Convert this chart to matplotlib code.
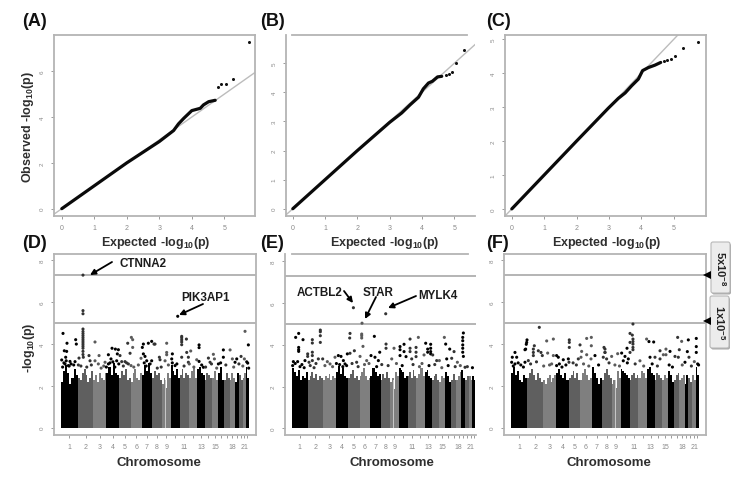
import numpy as np
import matplotlib
matplotlib.use('Agg')
import matplotlib.pyplot as plt
from matplotlib.patches import FancyBboxPatch, Polygon

plt.rcParams['font.family'] = ['Liberation Sans', 'DejaVu Sans']
plt.rcParams['mathtext.default'] = 'regular'

W, H = 742, 485

# chromosome lengths in Mb
chrom_len = [249, 243, 198, 191, 181, 171, 159, 146, 141, 135, 135, 133, 115, 107, 102, 90, 81, 78, 59, 63, 48, 51]
chrom_ticklabels = ['1', '2', '3', '4', '5', '6', '7', '8', '9', '', '11', '', '13', '', '15', '', '', '18', '', '', '21', '']
chrom_colors = ['#000000', '#5f5f5f', '#7f7f7f']
point_colors = ['#000000', '#333333', '#5a5a5a']

qq_a_x = [0, 1, 2, 3.0, 3.44, 3.59, 3.75, 4.0, 4.26, 4.36, 4.52, 4.72]
qq_a_y = [0, 1, 2, 2.93, 3.41, 3.70, 3.94, 4.28, 4.38, 4.53, 4.67, 4.73]
qq_a_tail_x = [4.8, 4.91, 5.05, 5.28, 5.76]
qq_a_tail_y = [5.33, 5.43, 5.46, 5.68, 7.28]

qq_b_x = [0, 1, 2, 3.0, 3.37, 3.63, 3.89, 4.04, 4.2, 4.32, 4.48, 4.61]
qq_b_y = [0, 1, 2, 2.97, 3.29, 3.57, 3.83, 4.12, 4.32, 4.38, 4.53, 4.55]
qq_b_tail_x = [4.73, 4.82, 4.92, 5.06, 5.3]
qq_b_tail_y = [4.6, 4.63, 4.69, 5.02, 5.45]

qq_c_x = [0, 1, 2, 2.98, 3.29, 3.5, 3.7, 3.91, 4.04, 4.22, 4.42, 4.6]
qq_c_y = [0, 1, 2, 2.97, 3.26, 3.42, 3.63, 3.83, 4.08, 4.17, 4.24, 4.32]
qq_c_tail_x = [4.7, 4.8, 4.92, 5.05, 5.28, 5.76]
qq_c_tail_y = [4.36, 4.38, 4.41, 4.50, 4.76, 4.92]

# solid part of the Manhattan plots, heights along each chromosome
top_d = [[2.2, 2.7, 3.0, 2.6, 2.1, 2.4, 2.8, 2.5], [2.4, 2.3, 2.6, 2.8, 2.5, 2.2, 2.4, 2.7],
         [2.3, 2.5, 2.2, 2.6, 2.4, 2.3, 2.6], [2.6, 2.9, 2.5, 3.1, 2.6, 2.5], [2.4, 2.7, 2.5, 2.8, 2.3, 2.4],
         [2.2, 2.6, 2.8, 2.4, 2.3, 2.6], [2.5, 3.0, 2.7, 3.1, 2.6], [2.4, 2.7, 2.5, 2.6, 2.3],
         [2.1, 2.4, 1.9, 2.6, 2.4], [3.0, 2.7, 2.5, 2.8, 2.4], [2.5, 2.8, 2.4, 2.6, 2.5], [2.4, 2.7, 2.9, 2.4],
         [2.8, 2.9, 2.6, 2.5], [2.3, 2.6, 2.5, 2.4], [2.4, 2.7, 2.3], [2.6, 2.9, 2.3], [2.3, 2.6, 2.4],
         [2.3, 2.6, 2.4], [2.2, 2.6], [2.5, 2.3], [2.4, 2.6], [2.9, 2.4]]
top_e = [[2.9, 2.7, 2.5, 2.8, 2.3, 2.5, 2.4, 2.7], [2.3, 2.5, 2.7, 2.4, 2.6, 2.3, 2.5, 2.4],
         [2.3, 2.5, 2.4, 2.6, 2.3, 2.5, 2.4], [2.7, 3.0, 2.6, 2.9, 2.5, 2.4], [2.4, 2.6, 2.8, 2.4, 2.5, 2.3],
         [2.5, 2.7, 2.9, 2.5, 2.3, 2.4], [2.5, 2.9, 2.7, 2.5, 2.6], [2.3, 2.6, 2.4, 2.7, 2.4],
         [2.2, 2.4, 1.9, 2.7, 2.5], [2.9, 2.8, 2.7, 2.4, 2.5], [2.5, 2.7, 2.4, 2.8, 2.5], [2.4, 2.6, 2.9, 2.5],
         [2.7, 2.8, 2.5, 2.4], [2.3, 2.5, 2.6, 2.3], [2.2, 2.5, 2.4], [2.7, 2.5, 2.2], [2.3, 2.6, 2.3],
         [2.3, 2.5, 2.7], [2.8, 2.4], [2.3, 2.5], [2.5, 2.3], [2.5, 2.3]]
top_f = [[2.6, 2.9, 2.5, 2.7, 2.3, 2.2, 2.5, 2.4], [2.4, 2.6, 2.8, 2.5, 2.3, 2.6, 2.4, 2.2],
         [2.3, 2.1, 2.4, 2.5, 2.2, 2.4, 2.5], [2.6, 2.8, 2.5, 2.4, 2.6, 2.3], [2.4, 2.5, 2.7, 2.4, 2.6, 2.3],
         [2.3, 2.6, 2.8, 2.5, 2.3, 2.4], [2.9, 2.6, 2.4, 2.1, 2.4], [2.3, 2.6, 2.8, 2.5, 2.4],
         [2.1, 2.3, 1.9, 2.7, 2.4], [2.8, 2.7, 2.6, 2.5, 2.4], [2.3, 2.5, 2.6, 2.4, 2.5], [2.4, 2.7, 2.6, 2.4],
         [2.8, 2.9, 2.6, 2.5], [2.3, 2.6, 2.5, 2.4], [2.3, 2.5, 2.4], [2.7, 2.5, 2.2], [2.3, 2.5, 2.6],
         [2.3, 2.4, 2.5], [2.1, 2.5], [2.4, 2.2], [2.5, 2.3], [2.9, 2.5]]

# pale strip in chromosome 9, start and width in Mb
strip_start = 1587
strip_width = 22
strip_height = 2.3

# single SNPs, x as genome position in Mb
pts_d_x = [332, 332, 332, 1783, 26, 87, 220, 230, 46, 82, 67, 6, 133, 57, 108, 271, 210, 261,
           332, 332, 332, 332, 332, 332, 332, 332, 332, 332, 332, 332,
           516, 424, 440, 578, 1073, 1093, 1017, 1093, 1053, 777, 828, 874, 721, 761, 858, 899,
           925, 976, 1027, 1068, 1257, 1333, 1384, 1420, 1241, 1257, 1282, 1221, 1308, 1384,
           670, 721, 848, 516, 567, 337,
           1844, 1844, 1844, 1844, 1844, 1916, 1614, 1435, 2814, 2865, 2110, 2110, 1701, 1614, 1614,
           1921, 1982, 1844, 1502, 1512, 1589, 1691, 1742, 1946, 1946, 2074, 2110, 2329, 2253, 2345,
           2278, 2482, 2585, 2482, 2620, 2687, 2753, 2804, 2855, 2661, 2406, 2176,
           20, 40, 75, 120, 150, 190, 300, 390, 460, 610, 650, 690, 745, 790, 820, 880, 950, 1000,
           1110, 1180, 1270, 1300, 1360, 1470, 1530, 1640, 1700, 1770, 1880, 1960, 2030, 2150, 2210,
           2300, 2380, 2440, 2520, 2640, 2720, 2780, 2840, 2870]
pts_d_y = [7.3, 5.6, 5.45, 5.33, 4.51, 4.04, 4.21, 4.0, 3.68, 3.65, 3.37, 3.24, 3.17, 3.05, 2.97, 3.33, 3.16, 3.0,
           4.72, 4.6, 4.5, 4.4, 4.3, 4.2, 4.1, 4.0, 3.9, 3.8, 3.65, 3.5,
           4.1, 3.45, 3.2, 3.45, 4.32, 4.21, 4.04, 3.84, 3.56, 3.8, 3.76, 3.73, 3.49, 3.29, 3.53, 3.45,
           3.16, 3.16, 3.05, 2.97, 4.0, 4.04, 4.13, 4.0, 3.84, 3.53, 3.41, 3.32, 3.2, 3.2,
           3.13, 3.05, 3.2, 3.2, 3.05, 3.37,
           4.37, 4.3, 4.2, 4.1, 3.97, 4.24, 4.04, 4.0, 4.61, 3.96, 3.96, 3.83, 3.53, 3.6, 3.49,
           3.6, 3.67, 3.37, 3.37, 3.25, 3.2, 3.29, 2.97, 3.37, 3.13, 3.25, 3.17, 3.51, 3.33, 3.29,
           3.13, 3.72, 3.72, 3.37, 3.29, 3.29, 3.41, 3.29, 3.09, 3.13, 3.05, 2.89,
           2.9, 3.1, 3.2, 2.95, 3.05, 3.0, 2.95, 2.9, 3.0, 2.85, 2.95, 2.9, 3.1, 3.15, 2.9, 3.05, 2.95, 3.1,
           2.9, 3.0, 3.1, 2.95, 3.05, 2.85, 2.9, 3.0, 3.1, 3.05, 2.95, 3.05, 2.9, 3.0, 2.9,
           3.05, 2.85, 3.1, 3.0, 2.9, 3.05, 2.95, 3.15, 2.85]

pts_e_x = [966, 1101, 1472, 109, 62, 177, 109, 109, 109, 448, 448, 448, 448, 323, 323, 913, 908,
           1096, 1096, 1096, 1116, 1294, 913, 871, 981, 250, 250, 323, 323, 323, 208, 271, 26, 93,
           417, 485, 558, 678, 730, 772, 809, 835, 1070, 1174, 1242, 1304, 1378, 1357, 600, 1017,
           1853, 1983, 1477, 1477, 1759, 1696, 1696, 1602, 1759, 1853, 1853, 1947, 1947, 1947,
           2098, 2176, 2176, 2176, 2176, 2129, 2129, 2072, 2208, 2390, 2411, 2474, 2542,
           2688, 2678, 2678, 2678, 2678, 2678, 2688, 2270, 2312, 2427, 2505, 2594, 2714,
           1566, 1696, 1790, 1879,
           15, 55, 130, 160, 195, 290, 350, 380, 520, 640, 700, 750, 800, 860, 945, 1040, 1140, 1210,
           1330, 1410, 1510, 1640, 1730, 1900, 2000, 2040, 2150, 2240, 2350, 2450, 2560, 2640, 2750, 2830]
pts_e_y = [5.77, 5.03, 5.48, 4.54, 4.35, 4.24, 3.87, 3.76, 3.68, 4.70, 4.62, 4.43, 4.11, 4.24, 4.08, 4.54, 4.32,
           4.51, 4.43, 4.32, 3.92, 4.40, 3.59, 3.56, 3.71, 3.56, 3.44, 3.64, 3.48, 3.24, 3.24, 3.16, 3.19, 3.19,
           3.32, 3.32, 3.19, 3.40, 3.48, 3.44, 3.24, 3.08, 3.44, 3.24, 3.48, 3.40, 3.64, 3.24, 3.08, 3.16,
           4.27, 4.35, 4.03, 3.83, 4.02, 3.91, 3.76, 3.83, 3.67, 3.83, 3.67, 3.87, 3.64, 3.43,
           4.07, 4.02, 3.83, 3.67, 3.56, 3.79, 3.64, 3.51, 3.51, 4.35, 4.03, 3.79, 3.67,
           4.56, 4.35, 4.19, 3.99, 3.83, 3.64, 3.44, 3.24, 3.24, 3.32, 3.35, 3.16, 2.92,
           3.32, 3.48, 3.43, 3.32,
           3.0, 3.1, 2.95, 3.05, 2.9, 3.0, 2.9, 3.1, 3.0, 2.95, 3.1, 3.05, 2.95, 3.0, 3.1, 2.95, 3.05, 3.1,
           2.95, 3.05, 3.0, 3.1, 3.0, 3.05, 2.95, 3.1, 3.0, 3.05, 2.9, 3.0, 2.95, 3.0, 2.95, 2.9]

pts_f_x = [433, 245, 240, 234, 224, 214, 546, 648, 892, 892, 892, 1158, 1229, 1056, 1229, 61, 20, 87,
           357, 342, 342, 342, 418, 459, 479, 561, 648, 698, 724, 800, 877, 887,
           1081, 1158, 1285, 1224, 1071, 1030, 1423, 1438, 1412, 1463, 61, 214, 265, 10, 622, 698,
           1866, 1821, 1856, 1866, 1866, 1821, 1866, 1866, 1866, 1821, 1775, 1632, 1693,
           2075, 2111, 2183, 2550, 2611, 2713, 2835, 2835, 2835, 2575, 2698,
           2280, 2371, 2433, 2331, 2371, 1744, 1795, 1718, 1540, 2127, 2203, 2280, 1973,
           2509, 2560, 2662, 2723, 2805, 2856, 1438, 1438,
           35, 110, 150, 190, 300, 390, 500, 590, 740, 780, 840, 950, 1000, 1110, 1190, 1340, 1500,
           1590, 1660, 1780, 1900, 2030, 2160, 2240, 2420, 2470, 2620, 2760, 2870]
pts_f_y = [4.8, 4.2, 4.08, 3.99, 3.76, 3.73, 4.15, 4.24, 4.2, 4.08, 3.84, 4.27, 4.32, 3.96, 3.92, 3.6, 3.37, 3.37,
           3.92, 3.76, 3.6, 3.45, 3.68, 3.6, 3.45, 3.57, 3.45, 3.45, 3.37, 3.25, 3.29, 3.13,
           3.65, 3.49, 3.45, 3.29, 3.37, 3.29, 3.84, 3.6, 3.37, 3.29, 3.05, 3.13, 3.21, 3.13, 3.05, 2.97,
           4.96, 4.51, 4.43, 4.24, 4.12, 4.08, 4.0, 3.84, 3.73, 3.6, 3.8, 3.54, 3.57,
           4.24, 4.12, 4.1, 4.32, 4.13, 4.2, 4.27, 3.88, 3.6, 3.73, 3.64,
           3.68, 3.76, 3.65, 3.49, 3.49, 3.41, 3.29, 3.2, 3.41, 3.37, 3.37, 3.29, 3.2,
           3.41, 3.37, 3.13, 3.37, 3.16, 3.05, 3.76, 3.6,
           2.95, 3.1, 3.0, 2.9, 3.05, 3.15, 2.95, 3.0, 3.05, 2.9, 3.0, 3.1, 3.0, 3.05, 2.95, 3.0, 3.1,
           3.0, 2.95, 3.1, 3.05, 2.95, 3.05, 2.95, 3.0, 2.9, 3.0, 2.95, 3.0]

thresholds = [7.3, 5.0]

SPINE = '#b4b4b4'
TICK = '#9a9a9a'
LABEL = '#2f2f2f'


def axes_px(left, top, right, bottom):
    return fig.add_axes([left / W, 1 - bottom / H, (right - left) / W, (bottom - top) / H])


def style(ax, yticks):
    for s in ax.spines.values():
        s.set_color(SPINE)
        s.set_linewidth(1.3)
    ax.set_yticks(yticks)
    ax.tick_params(length=2.5, width=0.7, color=TICK, labelsize=5, labelcolor='#8a8a8a', pad=3)
    ax.tick_params(axis='y', labelrotation=90, labelsize=4.5, pad=4)
    for t in ax.get_yticklabels():
        t.set_va('center')


def draw_qq(ax, x, y, tail_x, tail_y, xlim, ylim, yticks):
    ax.plot([-1, 10], [-1, 10], color='#bcbcbc', lw=1)
    ax.plot(x, y, color='#0a0a0a', lw=2.3, solid_capstyle='round')
    ax.plot(tail_x, tail_y, ls='none', marker='o', ms=2.2, color='#111111', mew=0)
    ax.set_xlim(xlim)
    ax.set_ylim(ylim)
    ax.set_xticks(range(6))
    style(ax, yticks)


def draw_manhattan(ax, tops, px, py, xlim, ylim):
    starts = np.concatenate([[0], np.cumsum(chrom_len)[:-1]])
    for i, (start, length, top) in enumerate(zip(starts, chrom_len, tops)):
        w = length / len(top)
        ax.bar(start + w * np.arange(len(top)), top, width=w, align='edge',
               color=chrom_colors[i % 3], lw=0)
    ax.bar(strip_start, strip_height, width=strip_width, align='edge', color='#c6c6c6', lw=0)
    chrom_idx = np.searchsorted(starts, px, side='right') - 1
    colors = [point_colors[c % 3] for c in chrom_idx]
    ax.scatter(px, py, s=5, c=colors, lw=0, zorder=3)
    for t in thresholds:
        ax.axhline(t, color='#a0a0a0', lw=1.1, zorder=2)
    ax.set_xlim(xlim)
    ax.set_ylim(ylim)
    ax.set_xticks(starts + np.array(chrom_len) / 2)
    ax.set_xticklabels(chrom_ticklabels)
    style(ax, [0, 2, 4, 6, 8])


fig = plt.figure(figsize=(W / 100, H / 100), dpi=100)

ax_a = axes_px(54, 36, 255.5, 217)
draw_qq(ax_a, qq_a_x, qq_a_y, qq_a_tail_x, qq_a_tail_y, (-0.24, 5.96), (-0.32, 7.58), [0, 2, 4, 6])

ax_b = axes_px(285.7, 36, 475, 217)
draw_qq(ax_b, qq_b_x, qq_b_y, qq_b_tail_x, qq_b_tail_y, (-0.22, 5.64), (-0.25, 5.97), range(6))
ax_b.spines['right'].set_visible(False)
ax_b.spines['top'].set_bounds(-0.02, 5.4)

ax_c = axes_px(504.7, 36, 705.7, 217)
draw_qq(ax_c, qq_c_x, qq_c_y, qq_c_tail_x, qq_c_tail_y, (-0.22, 5.99), (-0.21, 5.13), range(6))

ax_d = axes_px(54, 255, 256, 436)
draw_manhattan(ax_d, top_d, pts_d_x, pts_d_y, (-112, 2982), (-0.35, 8.31))

ax_e = axes_px(285, 255, 475.7, 436)
draw_manhattan(ax_e, top_e, pts_e_x, pts_e_y, (-105, 2881), (-0.32, 8.34))
ax_e.spines['right'].set_visible(False)
ax_e.spines['top'].set_bounds(0, 2765)

ax_f = axes_px(504, 255, 705.7, 436)
draw_manhattan(ax_f, top_f, pts_f_x, pts_f_y, (-107, 2979), (-0.35, 8.31))

# everything placed by hand goes on a pixel overlay
ov = fig.add_axes([0, 0, 1, 1], facecolor='none')
ov.set_xlim(0, W)
ov.set_ylim(H, 0)
ov.axis('off')

panel_letters = {'(A)': (22, 22), '(B)': (260, 22), '(C)': (486, 22),
                 '(D)': (22, 244), '(E)': (260, 244), '(F)': (486, 244)}
for name, (x, y) in panel_letters.items():
    ov.text(x, y, name, fontsize=13, fontweight='bold', va='center', ha='left', color='#111111')

for x in [156, 385, 607]:
    ov.text(x, 243, 'Expected -log$_{10}$(p)', fontsize=9, fontweight='bold',
            color=LABEL, ha='center', va='center')
for x in [159, 392, 609]:
    ov.text(x, 463, 'Chromosome', fontsize=9.5, fontweight='bold', color=LABEL, ha='center', va='center')
ov.text(28, 127, 'Observed -log$_{10}$(p)', fontsize=9, fontweight='bold', color=LABEL,
        rotation=90, ha='center', va='center')
ov.text(29, 348, '-log$_{10}$(p)', fontsize=9, fontweight='bold', color=LABEL,
        rotation=90, ha='center', va='center')

gene_labels = [('CTNNA2', 120, 264, (112, 263), (90, 276)),
               ('PIK3AP1', 181, 298, (203, 305), (179, 316)),
               ('ACTBL2', 297, 293, (344, 292), (353, 304)),
               ('STAR', 363, 293, (376, 298), (365, 320)),
               ('MYLK4', 418, 296, (416, 297), (388, 309))]
for name, tx, ty, start, end in gene_labels:
    ov.text(tx, ty, name, fontsize=8.4, fontweight='bold',
            color='#1c1c1c', ha='left', va='center')
    ov.annotate('', xy=end, xytext=start,
                arrowprops=dict(arrowstyle='-|>', color='black', lw=1.3, mutation_scale=8, shrinkA=0, shrinkB=0))

threshold_boxes = [('5x10$^{-8}$', 711, 243, 730, 294, 276),
                   ('1x10$^{-5}$', 710, 297, 729, 349, 322)]
for label, x0, y0, x1, y1, arrow_y in threshold_boxes:
    ov.add_patch(FancyBboxPatch((x0 + 1, y0 + 1.5), x1 - x0, y1 - y0, boxstyle='round,pad=0,rounding_size=2',
                                fc='#a8a8a8', ec='none'))
    ov.add_patch(FancyBboxPatch((x0, y0), x1 - x0, y1 - y0, boxstyle='round,pad=0,rounding_size=2',
                                fc='#ececec', ec='#b8b8b8', lw=0.8))
    ov.text((x0 + x1) / 2, (y0 + y1) / 2, label, rotation=270, fontsize=8, fontweight='bold',
            color='#222222', ha='center', va='center')
    ov.add_patch(Polygon([(703, arrow_y), (711, arrow_y - 4), (711, arrow_y + 4)], closed=True, fc='black', ec='none'))

fig.savefig('out.png', dpi=100)
